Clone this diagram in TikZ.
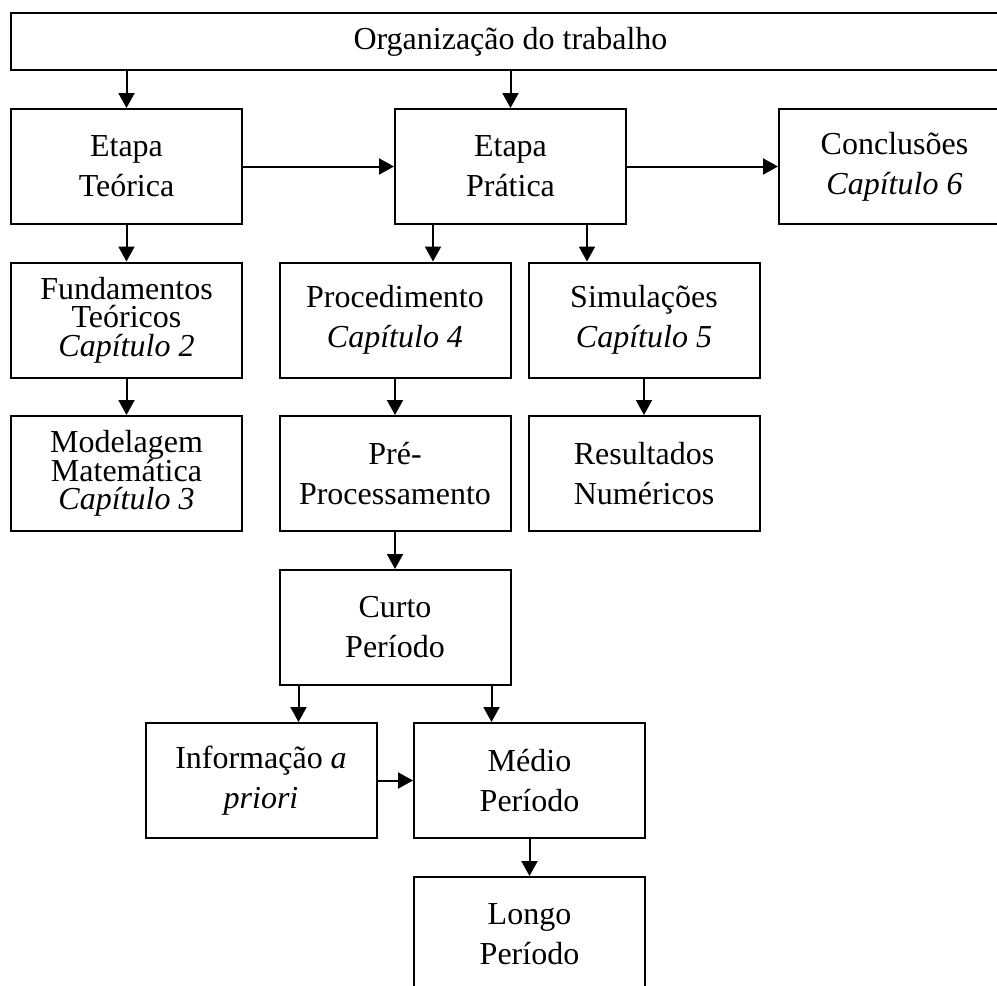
\documentclass[tikz,border=0pt]{standalone}
\usepackage{fontspec}
\setmainfont{Liberation Serif}
\usetikzlibrary{arrows.meta}

\begin{document}
\begin{tikzpicture}[x=0.5pt,y=-0.5pt,
  caixa/.style={draw,line width=1pt,minimum width=115.5pt,minimum height=57.5pt,
    align=center,inner sep=0pt,font=\fontsize{16}{20}\selectfont},
  tres/.style={caixa,font=\fontsize{16}{14.25}\selectfont,
    execute at begin node={\lineskiplimit=-100pt\relax}},
  seta/.style={-{Triangle[length=7.5pt,width=8pt]},line width=1pt}]
\useasboundingbox (0,0) rectangle (997,986);
\clip (0,0) rectangle (997,986);
% etapas
\node[caixa,minimum width=499.5pt,minimum height=28.5pt] (org) at (510.5,41.5) {Organização do trabalho};
\node[caixa] (tec) at (126.5,166.5) {Etapa\\Teórica};
\node[caixa] (prat) at (510.5,166.5) {Etapa\\Prática};
\node[caixa] (conc) at (894.5,166.5) {Conclusões\\\textit{Capítulo 6}};
% capitulos
\node[tres] (fund) at (126.5,320) {Fundamentos\\Teóricos\\\textit{Capítulo 2}};
\node[tres] (model) at (126.5,473.5) {Modelagem\\Matemática\\\textit{Capítulo 3}};
\node[caixa] (proc) at (395,320) {Procedimento\\\textit{Capítulo 4}};
\node[caixa] (pre) at (395,473.5) {Pré-\\Processamento};
\node[caixa] (sim) at (644,320) {Simulações\\\textit{Capítulo 5}};
\node[caixa] (res) at (644,473.5) {Resultados\\Numéricos};
% periodos
\node[caixa] (curto) at (395,627.5) {Curto\\Período};
\node[caixa] (info) at (261,780.5) {Informação \textit{a}\\\textit{priori}};
\node[caixa] (medio) at (529.5,780.5) {Médio\\Período};
\node[caixa] (longo) at (529.5,934.5) {Longo\\Período};

\draw[seta] (org.south -| tec.north) -- (tec.north);
\draw[seta] (org.south -| prat.north) -- (prat.north);
\draw[seta] (tec) -- (prat);
\draw[seta] (prat) -- (conc);
\draw[seta] (tec) -- (fund);
\draw[seta] (fund) -- (model);
\draw[seta] ([xshift=-38.75pt]prat.south) -- ([xshift=-38.75pt]prat.south |- proc.north);
\draw[seta] ([xshift=38.25pt]prat.south) -- ([xshift=38.25pt]prat.south |- sim.north);
\draw[seta] (proc) -- (pre);
\draw[seta] (sim) -- (res);
\draw[seta] (pre) -- (curto);
\draw[seta] ([xshift=10pt]curto.south west) -- ([xshift=10pt]curto.south west |- info.north);
\draw[seta] ([xshift=-10pt]curto.south east) -- ([xshift=-10pt]curto.south east |- medio.north);
\draw[seta] (info) -- (medio);
\draw[seta] (medio) -- (longo);
\end{tikzpicture}
\end{document}
